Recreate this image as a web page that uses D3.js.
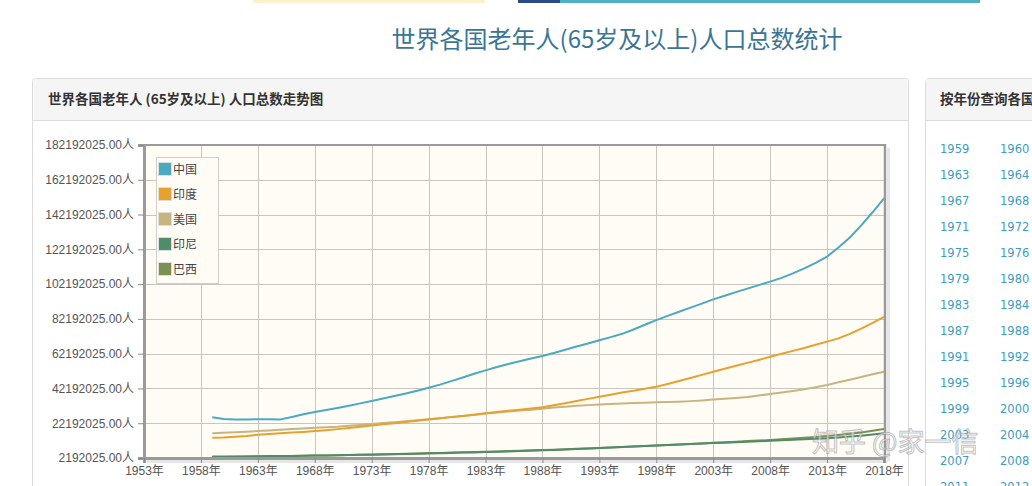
<!DOCTYPE html>
<html><head><meta charset="utf-8">
<script src="https://cdn.jsdelivr.net/npm/d3@7/dist/d3.min.js"></script>
<style>
html,body{margin:0;padding:0;background:#fff;overflow:hidden;}
svg{display:block;font-family:"Liberation Sans","Noto Sans CJK SC",sans-serif;}
</style></head><body>
<svg id="c" width="1032" height="486"></svg>
<script>
// ---- data (values in millions of people) ----
const years = d3.range(1959, 2019);
const seriesNames = ["中国", "印度", "美国", "印尼", "巴西"];
const seriesColors = ["#4ba9c1", "#e6a12e", "#c7b47f", "#4f8c6c", "#7b9152"];
const china = [25.6,24.6,24.4,24.4,24.5,24.5,24.4,25.8,27.3,28.6,29.8,31.0,32.3,33.6,35.0,36.4,37.8,39.3,40.9,42.6,
  44.4,46.4,48.5,50.6,52.6,54.5,56.2,57.8,59.4,60.9,62.6,64.4,66.3,68.0,69.9,71.7,73.6,76.1,78.8,81.5,
  83.9,86.3,88.7,91.0,93.4,95.5,97.6,99.6,101.6,103.6,105.8,108.4,111.2,114.4,118.0,123.2,129.0,136.0,143.5,151.5];
const india = [13.9,14.0,14.4,14.9,15.6,16.0,16.4,16.8,17.2,17.7,18.2,18.8,19.5,20.2,20.9,21.6,22.2,22.9,23.6,24.3,
  25.0,25.7,26.4,27.1,27.9,28.6,29.3,30.0,30.7,31.4,32.5,33.7,35.0,36.2,37.4,38.6,39.8,40.9,42.0,43.2,
  44.8,46.5,48.2,50.0,51.8,53.5,55.2,56.9,58.6,60.4,62.1,63.8,65.5,67.3,69.1,71.0,73.6,76.6,79.9,83.4];
const usa = [16.4,16.7,17.0,17.3,17.7,18.0,18.4,18.8,19.2,19.6,19.9,20.2,20.7,21.2,21.7,22.3,22.8,23.3,23.9,24.5,
  25.1,25.8,26.4,27.1,27.8,28.4,28.9,29.5,30.0,30.5,31.2,31.7,32.2,32.6,33.0,33.3,33.6,33.8,34.0,34.2,
  34.4,34.6,34.9,35.3,35.8,36.2,36.7,37.3,38.1,39.0,39.8,40.7,41.7,42.9,44.2,45.7,47.2,48.8,50.3,51.8];
const indonesia = [3.0,3.0,3.1,3.1,3.2,3.3,3.3,3.4,3.5,3.6,3.7,3.8,3.9,4.0,4.1,4.2,4.3,4.5,4.6,4.8,
  4.9,5.1,5.3,5.4,5.6,5.8,6.0,6.2,6.4,6.6,6.8,7.1,7.3,7.6,7.9,8.2,8.5,8.8,9.1,9.4,
  9.7,10.0,10.3,10.5,10.8,11.0,11.3,11.5,11.8,12.1,12.4,12.7,13.0,13.3,13.6,14.0,14.5,15.0,15.7,16.4];
const brazil = [2.7,2.8,2.9,3.0,3.1,3.2,3.3,3.4,3.5,3.6,3.7,3.8,3.9,4.1,4.2,4.4,4.5,4.7,4.8,5.0,
  5.1,5.3,5.5,5.6,5.8,6.0,6.2,6.4,6.6,6.8,7.0,7.2,7.5,7.7,8.0,8.2,8.5,8.8,9.1,9.4,
  9.7,10.0,10.3,10.6,10.9,11.2,11.5,11.9,12.2,12.6,13.0,13.4,13.8,14.3,14.8,15.4,16.1,16.9,17.9,18.9];
const seriesValues = [china, india, usa, indonesia, brazil];
const yTicks = [2192025,22192025,42192025,62192025,82192025,102192025,122192025,142192025,162192025,182192025];
const xTicks = [1953,1958,1963,1968,1973,1978,1983,1988,1993,1998,2003,2008,2013,2018];
const pageTitle = "世界各国老年人(65岁及以上)人口总数统计";
const panelTitle = "世界各国老年人 (65岁及以上) 人口总数走势图";
const sideTitle = "按年份查询各国";
const sideYears = [1959,1960,1963,1964,1967,1968,1971,1972,1975,1976,1979,1980,1983,1984,1987,1988,
  1991,1992,1995,1996,1999,2000,2003,2004,2007,2008,2011,2012];

const svg = d3.select("#c");

// top banner strip
svg.append("rect").attr("x",253).attr("y",0).attr("width",232).attr("height",3).attr("fill","#fdf0cf");
svg.append("rect").attr("x",518).attr("y",0).attr("width",42).attr("height",3).attr("fill","#2e4a86");
svg.append("rect").attr("x",560).attr("y",0).attr("width",420).attr("height",3).attr("fill","#4fb0c6");

// page title
svg.append("text").attr("x",617).attr("y",48).attr("text-anchor","middle")
  .style("font-family","'Noto Sans CJK SC',sans-serif").style("font-size","24px")
  .attr("fill","#3b7595").text(pageTitle);

// left panel
svg.append("rect").attr("x",32.5).attr("y",78.5).attr("width",876).attr("height",420).attr("rx",3)
  .attr("fill","#fff").attr("stroke","#dcdcdc");
svg.append("path").attr("d","M33.5,81.5 a3,3 0 0 1 3,-2.5 H904.5 a3,3 0 0 1 3,2.5 V120 H33.5 Z").attr("fill","#f5f5f5");
svg.append("line").attr("x1",33).attr("x2",908).attr("y1",120.5).attr("y2",120.5).attr("stroke","#dcdcdc");
svg.append("text").attr("x",48).attr("y",104).style("font-family","'Noto Sans CJK SC',sans-serif")
  .style("font-size","13.5px").style("font-weight","bold").attr("fill","#333").text(panelTitle);

// right panel
svg.append("rect").attr("x",925.5).attr("y",78.5).attr("width",200).attr("height",420).attr("rx",3)
  .attr("fill","#fff").attr("stroke","#dcdcdc");
svg.append("rect").attr("x",926).attr("y",79).attr("width",200).attr("height",41).attr("fill","#f5f5f5");
svg.append("line").attr("x1",926).attr("x2",1032).attr("y1",120.5).attr("y2",120.5).attr("stroke","#dcdcdc");
svg.append("text").attr("x",940).attr("y",104).style("font-family","'Noto Sans CJK SC',sans-serif")
  .style("font-size","13.5px").style("font-weight","bold").attr("fill","#333").text(sideTitle);
svg.append("g").selectAll("text").data(sideYears).join("text")
  .attr("x",(d,i)=>940 + (i%2)*60).attr("y",(d,i)=>153 + Math.floor(i/2)*26)
  .style("font-family","'DejaVu Sans',sans-serif").style("font-size","11.5px")
  .attr("fill","#3d9cc0").text(d=>d);

// chart scales
const x = d3.scaleLinear().domain([1953,2018]).range([144,884]);
const y = d3.scaleLinear().domain([2192025,182192025]).range([458,145]);

// plot background + shadow
svg.append("rect").attr("x",887).attr("y",148).attr("width",3).attr("height",313).attr("fill","#e6e6e6");
svg.append("rect").attr("x",147).attr("y",460).attr("width",740).attr("height",3).attr("fill","#e6e6e6");
svg.append("rect").attr("x",144).attr("y",145).attr("width",740).attr("height",313).attr("fill","#fffcf5");

// grid
const grid = svg.append("g").attr("stroke","#c9c6c0").attr("stroke-width",1);
grid.selectAll("line.v").data(xTicks.slice(1,-1)).join("line")
  .attr("x1",d=>Math.round(x(d))+0.5).attr("x2",d=>Math.round(x(d))+0.5).attr("y1",145).attr("y2",458);
grid.selectAll("line.h").data(yTicks.slice(1,-1)).join("line")
  .attr("x1",144).attr("x2",884).attr("y1",d=>Math.round(y(d))+0.5).attr("y2",d=>Math.round(y(d))+0.5);

// lines
const line = d3.line().x((d,i)=>x(years[i])).y(d=>y(d*1e6));
const order = [4,3,2,1,0];
svg.append("g").selectAll("path").data(order).join("path")
  .attr("d",k=>line(seriesValues[k])).attr("fill","none")
  .attr("stroke",k=>seriesColors[k]).attr("stroke-width",2).attr("stroke-linejoin","round");

// frame
svg.append("line").attr("x1",144).attr("x2",885).attr("y1",145).attr("y2",145).attr("stroke","#9a9a9a").attr("stroke-width",2);
svg.append("line").attr("x1",885).attr("x2",885).attr("y1",144).attr("y2",459).attr("stroke","#9a9a9a").attr("stroke-width",2.5);

// axes
const yAxis = svg.append("g").attr("transform","translate(144,0)")
  .call(d3.axisLeft(y).tickValues(yTicks).tickFormat(d=>d3.format(".2f")(d)+"人").tickSize(6).tickPadding(4));
const xAxis = svg.append("g").attr("transform","translate(0,458)")
  .call(d3.axisBottom(x).tickValues(xTicks).tickFormat(d=>d+"年").tickSize(5).tickPadding(3));
[yAxis,xAxis].forEach(a=>{
  a.select(".domain").attr("stroke","#9a9a9a").attr("stroke-width",3);
  a.selectAll(".tick line").attr("stroke","#8a8a8a");
  a.selectAll(".tick text").attr("fill","#555").style("font-size","12px")
    .style("font-family","'Liberation Sans','Noto Sans CJK SC',sans-serif");
});

// legend
const lg = svg.append("g");
lg.append("rect").attr("x",156.5).attr("y",157.5).attr("width",62).attr("height",126)
  .attr("fill","#fffcf5").attr("stroke","#d0cdc6");
const li = lg.selectAll("g").data(seriesNames).join("g")
  .attr("transform",(d,i)=>`translate(158,${162 + i*25})`);
li.append("rect").attr("x",0.5).attr("y",0.5).attr("width",13).attr("height",13)
  .attr("fill",(d,i)=>seriesColors[i]).attr("stroke","#ddd");
li.append("text").attr("x",15).attr("y",11.5).style("font-size","12px")
  .style("font-family","'Noto Sans CJK SC',sans-serif").attr("fill","#444").text(d=>d);

// watermark
svg.append("text").attr("x",812).attr("y",452).style("font-family","'Noto Sans CJK SC',sans-serif")
  .style("font-size","27px").attr("fill","rgba(255,255,255,0.55)").attr("stroke","rgba(140,140,140,0.55)")
  .attr("stroke-width",1).text("知乎 @家一信");
</script>
</body></html>
